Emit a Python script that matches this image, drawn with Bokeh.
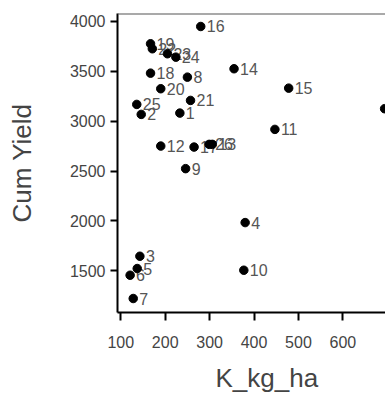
from bokeh.plotting import figure
from bokeh.models import ColumnDataSource, FixedTicker, Range1d, Span, Title
from bokeh.core.properties import value
from bokeh.embed import file_html
from bokeh.resources import INLINE

# Site id, potassium rate and cumulative yield per site
site_ids = ["1", "2", "3", "4", "5", "6", "7", "8", "9", "10", "11", "12", "13",
            "14", "15", "16", "17", "18", "19", "20", "21", "22", "23", "24", "25",
            "26", "27"]
k_kg_ha = [233, 146, 143, 380, 137, 121, 128, 250, 246, 377, 447, 190, 306,
           355, 478, 280, 265, 167, 167, 190, 257, 171, 205, 224, 136,
           299, 694]
cum_yield = [3080, 3067, 1647, 1984, 1524, 1457, 1224, 3440, 2524, 1507, 2917, 2750, 2767,
             3524, 3330, 3947, 2740, 3480, 3774, 3324, 3207, 3724, 3674, 3640, 3167,
             2767, 3124]

x_ticks = [100, 200, 300, 400, 500, 600, 700]
y_ticks = [1500, 2000, 2500, 3000, 3500, 4000]

FONT = "Liberation Sans"
X_END = 696

src = ColumnDataSource(data=dict(x=k_kg_ha, y=cum_yield))
# id labels only where there is room for them inside the frame
keep = [i for i, xv in enumerate(k_kg_ha) if xv < X_END - 20]
lab_src = ColumnDataSource(data=dict(x=[k_kg_ha[i] for i in keep],
                                     y=[cum_yield[i] for i in keep],
                                     lab=[site_ids[i] for i in keep]))

p = figure(width=385, height=403, output_backend="svg", toolbar_location=None,
           x_range=Range1d(92.6, X_END), y_range=Range1d(1084, 4077),
           min_border_left=117, min_border_right=0, min_border_top=13,
           min_border_bottom=91)

p.background_fill_color = "white"
p.border_fill_color = "white"
p.outline_line_color = None
p.grid.visible = False

# labels first so the dots sit on top of crowded labels
p.text("x", "y", text="lab", source=lab_src, x_offset=6, text_align="left",
       text_baseline="middle", text_font=value(FONT), text_font_size="16px",
       text_color="#555555")
p.scatter("x", "y", source=src, size=8.5, color="black")

# frame top edge
p.add_layout(Span(location=4077, dimension="width", line_color="#555555",
                  line_width=2))

for ax in (p.xaxis[0], p.yaxis[0]):
    ax.axis_line_color = "black"
    ax.axis_line_width = 2
    ax.major_tick_line_color = "black"
    ax.major_tick_line_width = 2
    ax.major_tick_in = 0
    ax.minor_tick_line_color = None
    ax.major_label_text_font = FONT
    ax.major_label_text_font_size = "16px"
    ax.major_label_text_color = "#444444"

p.xaxis.ticker = FixedTicker(ticks=x_ticks)
p.yaxis.ticker = FixedTicker(ticks=y_ticks)
p.xaxis.major_tick_out = 8
p.yaxis.major_tick_out = 7
p.xaxis.major_label_standoff = 15
p.yaxis.major_label_standoff = 5

p.yaxis.axis_label = "Cum Yield"
p.yaxis.axis_label_text_font = FONT
p.yaxis.axis_label_text_font_size = "26px"
p.yaxis.axis_label_text_font_style = "normal"
p.yaxis.axis_label_text_color = "#444444"
p.yaxis.axis_label_standoff = 30

# x-axis title, centred under the full axis span
p.add_layout(Title(text="K_kg_ha", align="left", offset=98, standoff=21,
                   vertical_align="bottom",
                   text_font=FONT, text_font_size="26px",
                   text_font_style="normal", text_color="#444444"), "below")

open("out.html", "w").write(file_html(p, INLINE))
